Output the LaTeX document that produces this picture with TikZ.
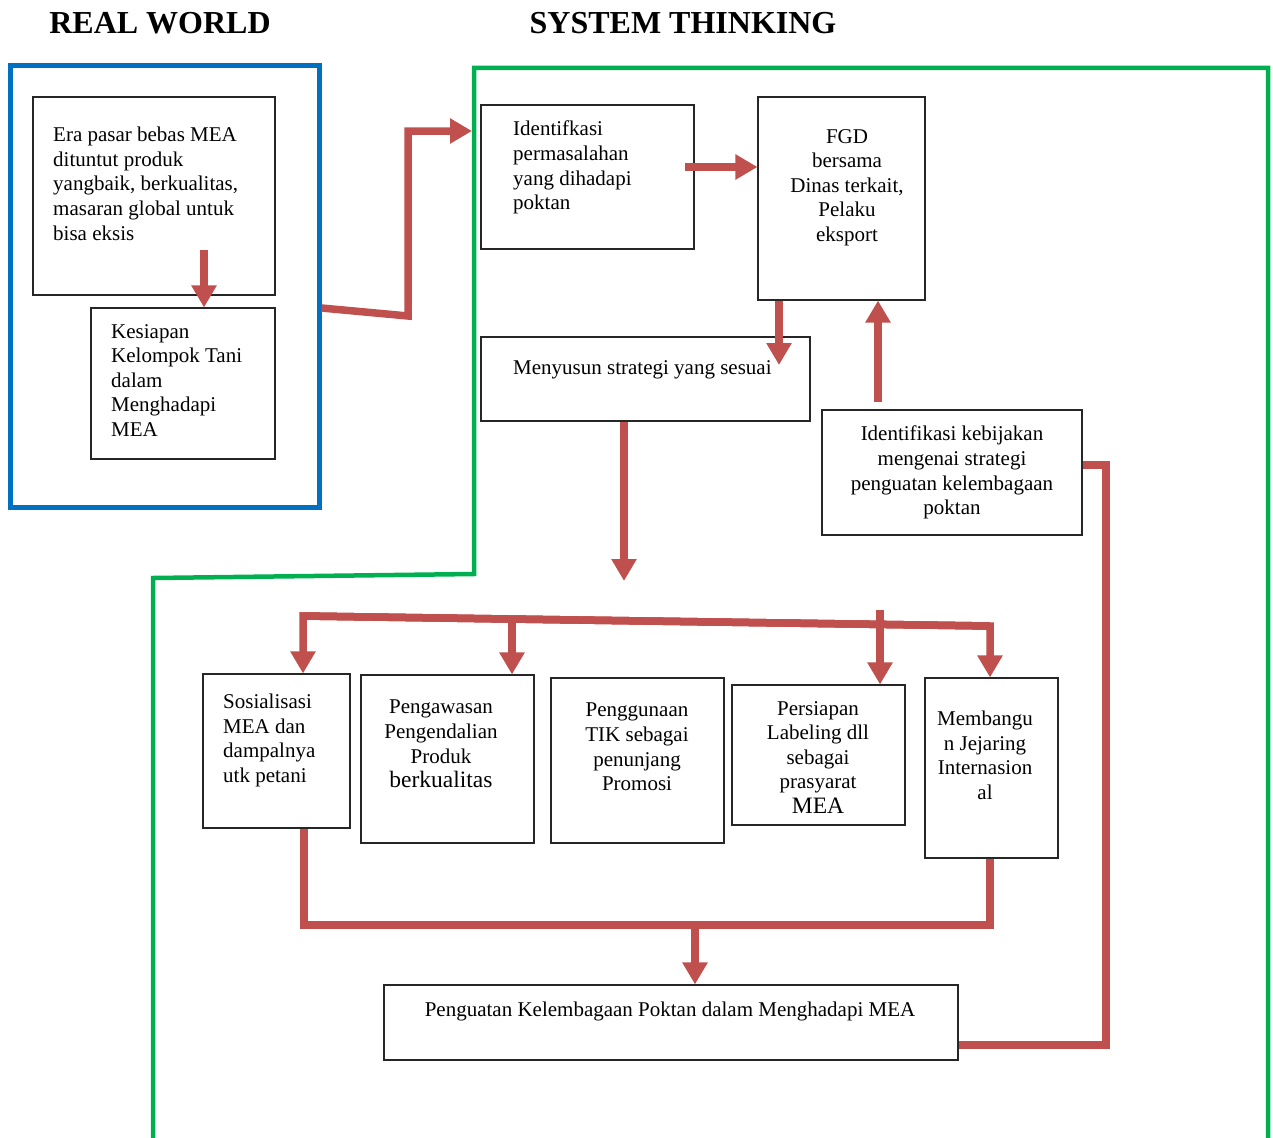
\documentclass[tikz,border=0pt]{standalone}
\usepackage{fontspec}
\setmainfont{Liberation Serif}
\usetikzlibrary{arrows.meta,calc}
\definecolor{arrred}{RGB}{192,80,77}
\definecolor{rwblue}{RGB}{0,112,192}
\definecolor{stgreen}{RGB}{0,176,80}
\tikzset{
  box/.style={draw=black!85, line width=1.1pt, inner sep=0pt},
  txt/.style={inner sep=0pt, font=\fontsize{21}{24.6}\selectfont, text=black},
  ttl/.style={inner sep=0pt, font=\fontsize{32}{36}\selectfont\bfseries},
  conn/.style={draw=arrred, line width=7.5pt},
  arr/.style={conn, -{Triangle[width=24pt,length=22pt]}},
}
\begin{document}
\begin{tikzpicture}[x=1pt,y=-1pt]
\useasboundingbox (0,0) rectangle (1273,1137);
\fill[white] (0,0) rectangle (1273,1137);

% titles
\node[ttl] (t1) at (160,23) {REAL WORLD};
\node[ttl] (t2) at (683,23) {SYSTEM THINKING};

% frames
\node[draw=rwblue, line width=5pt, minimum width=309pt, minimum height=441pt, inner sep=0pt] (rw) at (164.5,286.5) {};
\draw[stgreen, line width=4.5pt] (153,1145) -- (153,578) -- (474,574) -- (474,68) -- (1268,68) -- (1268,1145);

% boxes
\node[box, minimum width=242pt, minimum height=198pt] (era) at (154,196) {};
\node[box, minimum width=184pt, minimum height=151pt] (kes) at (183,383.5) {};
\node[box, minimum width=213pt, minimum height=144pt] (idp) at (587.5,177) {};
\node[box, minimum width=167pt, minimum height=203pt] (fgd) at (841.5,198.5) {};
\node[box, minimum width=329pt, minimum height=84pt] (men) at (645.5,379) {};
\node[box, minimum width=260pt, minimum height=125pt] (kbj) at (952,472.5) {};
\node[box, minimum width=147pt, minimum height=154pt] (sos) at (276.5,751) {};
\node[box, minimum width=173pt, minimum height=168pt] (pgw) at (447.5,759) {};
\node[box, minimum width=173pt, minimum height=165pt] (tik) at (637.5,760.5) {};
\node[box, minimum width=173pt, minimum height=140pt] (lab) at (818.5,755) {};
\node[box, minimum width=133pt, minimum height=180pt] (jej) at (991.5,768) {};
\node[box, minimum width=574pt, minimum height=75pt] (pgt) at (671,1022.5) {};

% texts
\node[txt, anchor=north west, align=left] (eraT) at (53,127) {Era pasar bebas MEA\\dituntut produk\\yangbaik, berkualitas,\\masaran global untuk\\bisa eksis};
\node[txt, anchor=north west, align=left] (kesT) at (111,324) {Kesiapan\\Kelompok Tani\\dalam\\Menghadapi\\MEA};
\node[txt, anchor=north west, align=left] (idpT) at (513,121) {Identifkasi\\permasalahan\\yang dihadapi\\poktan};
\node[txt, anchor=north, align=center] (fgdT) at (847,129) {FGD\\bersama\\Dinas terkait,\\Pelaku\\eksport};
\node[txt, anchor=north west, align=left] (menT) at (513,360) {Menyusun strategi yang sesuai};
\node[txt, anchor=north, align=center] (kbjT) at (952,426) {Identifikasi kebijakan\\mengenai strategi\\penguatan kelembagaan\\poktan};
\node[txt, anchor=north west, align=left] (sosT) at (223,694) {Sosialisasi\\MEA dan\\dampalnya\\utk petani};
\node[txt, anchor=north, align=center] (pgwT) at (441,700) {Pengawasan\\Pengendalian\\Produk\\{\fontsize{23.5}{26}\selectfont berkualitas}};
\node[txt, anchor=north, align=center] (tikT) at (637,703) {Penggunaan\\TIK sebagai\\penunjang\\Promosi};
\node[txt, anchor=north, align=center] (labT) at (818,701) {Persiapan\\Labeling dll\\sebagai\\prasyarat\\{\fontsize{23.5}{26}\selectfont MEA}};
\node[txt, anchor=north, align=center] (jejT) at (985,711) {Membangu\\n Jejaring\\Internasion\\al};
\node[txt, anchor=north] (pgtT) at (670,1002) {Penguatan Kelembagaan Poktan dalam Menghadapi MEA};

% coordinates for free ends / bends
\coordinate (a1) at (204,250);
\coordinate (b1) at (408,316);
\coordinate (b2) at (408,131);
\coordinate (gl) at (472,131);
\coordinate (c1) at (685,167);
\coordinate (d1) at (779,365);
\coordinate (e1) at (878,402);
\coordinate (f1) at (624,581);
\coordinate (s1) at (303,616);
\coordinate (s2) at (990,626);
\coordinate (s3) at (512,619);
\coordinate (s4) at (880,610);
\coordinate (u1) at (304,925);
\coordinate (u2) at (990,925);
\coordinate (u3) at (695,925);
\coordinate (r1) at (1106,1045);
\coordinate (r2) at (1106,465);

% connectors
\draw[arr] (a1) -- (a1 |- kes.north);
\draw[arr] (rw.east |- 0,308) -- (b1) -- (b2) -- (gl);
\draw[arr] (c1) -- (c1 -| fgd.west);
\draw[arr] (d1 |- fgd.south) -- (d1);
\draw[arr] (e1) -- (e1 |- fgd.south);
\draw[arr] (f1 |- men.south) -- (f1);
\draw[conn] (s1) -- (s2);
\draw[arr] (s2) -- (s1) -- (s1 |- sos.north);
\draw[arr] (s1) -- (s2) -- (s2 |- jej.north);
\draw[arr] (s3) -- (s3 |- pgw.north);
\draw[arr] (s4) -- (s4 |- lab.north);
\draw[conn] (u1 |- sos.south) -- (u1) -- (u2) -- (u2 |- jej.south);
\draw[arr] (u3) -- (u3 |- pgt.north);
\draw[conn] (pgt.east |- r1) -- (r1) -- (r2) -- (r2 -| kbj.east);
\end{tikzpicture}
\end{document}
